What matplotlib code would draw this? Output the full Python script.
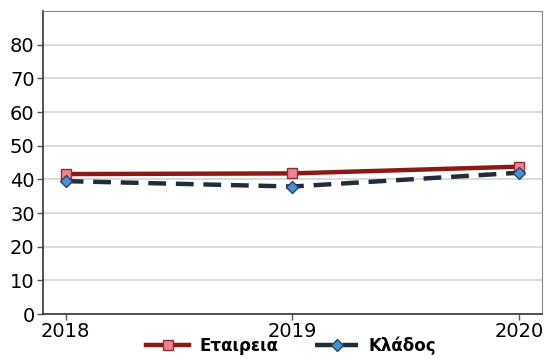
import matplotlib.pyplot as plt

years = [2018, 2019, 2020]
etaireia = [41.6, 41.8, 43.8]
klados = [39.5, 37.9, 42.0]
labels = ["Εταιρεια", "Κλάδος"]

fig = plt.figure(figsize=(5.44, 3.59), dpi=100)
ax = fig.add_axes([0.079, 0.125, 0.917, 0.844])

ax.plot(years, etaireia, color="#8b1a14", lw=3.2, marker="s", ms=6.5,
        mfc="#e8849a", mec="#9b2a2a", mew=1, label=labels[0], zorder=3)
ax.plot(years, klados, color="#222d3b", lw=3.2, ls=(0, (4, 2.2)), marker="D", ms=6,
        mfc="#4c8fd2", mec="#24466e", mew=1, label=labels[1], zorder=3)

ax.set_ylim(0, 90)
ax.set_yticks(range(0, 90, 10))
ax.set_xlim(2017.9, 2020.1)
ax.set_xticks(years)
ax.grid(axis="y", color="#d4d4d4", lw=1.2)
ax.set_axisbelow(True)
ax.tick_params(labelsize=14, length=4, color="#555555", width=1, pad=2)
for s in ["top", "right"]:
    ax.spines[s].set_color("#888888")
for s in ["left", "bottom"]:
    ax.spines[s].set_color("#333333")
    ax.spines[s].set_linewidth(1.2)

fig.legend(loc="lower center", bbox_to_anchor=(0.535, -0.03), ncol=2, frameon=False,
           prop={"weight": "bold", "size": 12}, handlelength=2.6, handletextpad=0.6,
           columnspacing=2.2)

fig.savefig("out.png", dpi=100)
